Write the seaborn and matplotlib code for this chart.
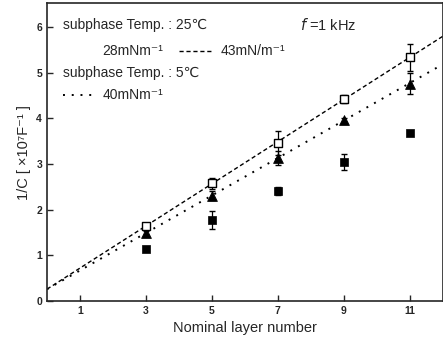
import numpy as np
import pandas as pd
import matplotlib
matplotlib.use("Agg")
import matplotlib.pyplot as plt
import seaborn as sns
from matplotlib.lines import Line2D

# Data
layers = [3, 5, 7, 9, 11]
inv_c_43 = [1.64, 2.58, 3.46, 4.42, 5.33]   # 25C, 43 mN/m (open squares)
err_43 = [0.05, 0.12, 0.26, 0.08, 0.30]
inv_c_40 = [1.49, 2.30, 3.13, 3.96, 4.76]   # 5C, 40 mN/m (triangles)
err_40 = [0.05, 0.10, 0.16, 0.05, 0.22]
inv_c_28 = [1.14, 1.77, 2.41, 3.04, 3.68]   # 25C, 28 mN/m (filled squares)
err_28 = [0.03, 0.20, 0.08, 0.18, 0.04]

xticks = [1, 3, 5, 7, 9, 11]
yticks = [0, 1, 2, 3, 4, 5, 6]

sns.set_style("ticks")
plt.rcParams["font.family"] = ["Liberation Sans", "DejaVu Sans"]
plt.rcParams["xtick.direction"] = "in"
plt.rcParams["ytick.direction"] = "in"

df = pd.DataFrame({"layer": layers, "c43": inv_c_43, "c40": inv_c_40, "c28": inv_c_28})

fig = plt.figure(figsize=(4.43, 3.46), dpi=100)
ax = fig.add_axes([0.106, 0.13, 0.893, 0.861])
ax.set_xlim(0, 12)
ax.set_ylim(0, 6.52)

# fitted lines over the whole x range
sns.regplot(x="layer", y="c43", data=df, scatter=False, ci=None, truncate=False,
            line_kws={"color": "black", "lw": 1.0, "ls": (0, (3, 2))}, ax=ax)
sns.regplot(x="layer", y="c40", data=df, scatter=False, ci=None, truncate=False,
            line_kws={"color": "black", "lw": 1.4, "ls": (0, (1, 3.5))}, ax=ax)

# error bars
ax.errorbar(layers, inv_c_43, yerr=err_43, fmt="none", ecolor="black", elinewidth=0.9, capsize=2.5)
ax.errorbar(layers, inv_c_40, yerr=err_40, fmt="none", ecolor="black", elinewidth=0.9, capsize=2.5)
ax.errorbar(layers, inv_c_28, yerr=err_28, fmt="none", ecolor="black", elinewidth=0.9, capsize=2.5)

# markers
sns.scatterplot(x="layer", y="c28", data=df, marker="s", s=38, color="black", edgecolor="black", ax=ax, zorder=3)
sns.scatterplot(x="layer", y="c40", data=df, marker="^", s=50, color="black", edgecolor="black", ax=ax, zorder=3)
sns.scatterplot(x="layer", y="c43", data=df, marker="s", s=34, color="white", edgecolor="black",
                linewidth=1.0, ax=ax, zorder=4)

ax.set_xticks(xticks)
ax.set_yticks(yticks)
ax.tick_params(labelsize=7.5, length=4, width=1)
for lab in ax.get_xticklabels() + ax.get_yticklabels():
    lab.set_fontweight("bold")
ax.set_xlabel("Nominal layer number", fontsize=10.5)
ax.set_ylabel("1/C [ \u00d710\u2077F\u207b\u00b9 ]", fontsize=10.5)
for sp in ax.spines.values():
    sp.set_linewidth(1.2)

# legend drawn as text
fs = 10
ax.text(0.04, 0.925, "subphase Temp. : 25\u2103", transform=ax.transAxes, fontsize=fs, va="center")
ax.text(0.14, 0.84, "28mNm\u207b\u00b9", transform=ax.transAxes, fontsize=fs, va="center")
ax.add_line(Line2D([0.335, 0.42], [0.84, 0.84], transform=ax.transAxes, color="black",
                   lw=1.0, ls=(0, (3, 2))))
ax.text(0.44, 0.84, "43mN/m\u207b\u00b9", transform=ax.transAxes, fontsize=fs, va="center")
ax.text(0.04, 0.765, "subphase Temp. : 5\u2103", transform=ax.transAxes, fontsize=fs, va="center")
ax.add_line(Line2D([0.04, 0.12], [0.69, 0.69], transform=ax.transAxes, color="black",
                   lw=1.4, ls=(0, (1, 3.5))))
ax.text(0.14, 0.69, "40mNm\u207b\u00b9", transform=ax.transAxes, fontsize=fs, va="center")
ax.text(0.64, 0.925, "$f$ =1 kHz", transform=ax.transAxes, fontsize=10.5, va="center")

fig.savefig("out.png", dpi=100)
